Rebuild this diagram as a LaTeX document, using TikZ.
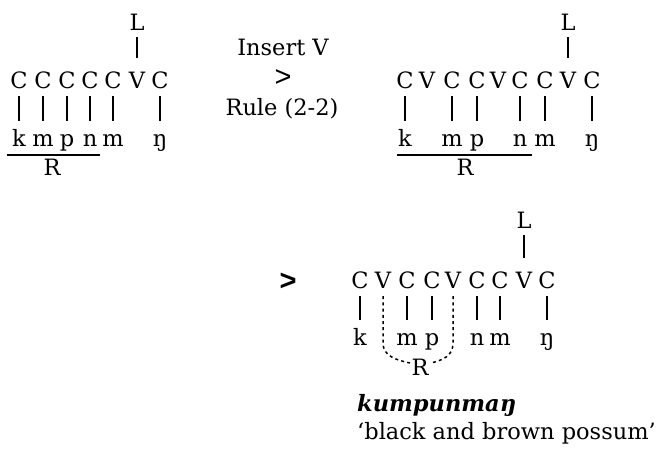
\documentclass[tikz,border=0pt]{standalone}
\usepackage{fontspec}
\setmainfont{DejaVu Serif}
\newfontfamily\gtfont{Liberation Sans}
\begin{document}
\begin{tikzpicture}[x=1pt,y=-1pt,
  every node/.style={font=\fontsize{22.5}{27}\selectfont},
  sym/.style={inner sep=0pt, anchor=base, text height=17pt, text depth=5pt},
  assoc/.style={line width=1.2pt, shorten <=3pt, shorten >=8pt},
  tonal/.style={line width=1.2pt, shorten <=2pt, shorten >=13pt},
  dotlink/.style={line width=1.5pt, dash pattern=on 3pt off 3.2pt},
  rootbar/.style={line width=1.6pt},
  plain/.style={inner sep=0pt, anchor=base}]
\useasboundingbox (0,0) rectangle (660,448);

% ---------- first form: C C C C C V C ----------
\node[sym] (aL) at (137,30) {L};
\foreach \n/\x/\t in {1/19/C,2/43/C,3/67/C,4/90/C,5/113/C,6/137/V,7/160/C}
  \node[sym] (a\n) at (\x,88) {\t};
\foreach \n/\x/\t in {1/19/k,2/43/m,3/67/p,4/90/n,5/113/m,7/160/ŋ}
  \node[sym] (as\n) at (\x,146) {\t};
\draw[tonal] (aL) -- (a6);
\foreach \n in {1,2,3,4,5,7}
  \draw[assoc] (a\n) -- (as\n);
\coordinate (aul) at (7,155);
\coordinate (aur) at (100,155);
\draw[rootbar] (aul) -- (aur);
\node[sym] (aR) at (52,175) {R};

% ---------- rule label ----------
\node[plain] (ins) at (283,55) {Insert V};
\node[plain] (gt1) at (283,86) {\gtfont\fontsize{29}{34}\selectfont >};
\node[plain] (rule) at (282,115) {Rule (2-2)};

% ---------- second form: C V C C V C C V C ----------
\node[sym] (bL) at (568,30) {L};
\foreach \n/\x/\t in {1/405/C,2/427/V,3/452/C,4/477/C,5/498/V,6/520/C,7/545/C,8/568/V,9/592/C}
  \node[sym] (b\n) at (\x,88) {\t};
\foreach \n/\x/\t in {1/405/k,3/452/m,4/477/p,6/520/n,7/545/m,9/592/ŋ}
  \node[sym] (bs\n) at (\x,146) {\t};
\draw[tonal] (bL) -- (b8);
\foreach \n in {1,3,4,6,7,9}
  \draw[assoc] (b\n) -- (bs\n);
\coordinate (bul) at (397,155);
\coordinate (bur) at (532,155);
\draw[rootbar] (bul) -- (bur);
\node[sym] (bR) at (465,175) {R};

% ---------- output form ----------
\node[plain] (gt2) at (288,290) {\gtfont\bfseries\fontsize{29}{34}\selectfont >};
\node[sym] (cL) at (524,228) {L};
\foreach \n/\x/\t in {1/360/C,2/383/V,3/407/C,4/432/C,5/453/V,6/477/C,7/500/C,8/524/V,9/547/C}
  \node[sym] (c\n) at (\x,288) {\t};
\foreach \n/\x/\t in {1/360/k,3/407/m,4/432/p,6/477/n,7/500/m,9/547/ŋ}
  \node[sym] (cs\n) at (\x,345) {\t};
\draw[tonal] (cL) -- (c8);
\foreach \n in {1,3,4,6,7,9}
  \draw[assoc] (c\n) -- (cs\n);
\node[sym] (cR) at (420,375) {R};
% dotted links from the inserted vowels down to R
\coordinate (lbend) at (383,343);
\coordinate (rbend) at (453,343);
\coordinate (lend) at (410,363);
\coordinate (rend) at (431,363);
\draw[dotlink] ([yshift=-3pt]c2.south) -- (lbend)
  .. controls (383,356) and (396,360) .. (lend);
\draw[dotlink] ([yshift=-3pt]c5.south) -- (rbend)
  .. controls (453,356) and (443,360) .. (rend);

\node[plain, anchor=base west] (word) at (357,411) {\textbf{\textit{kumpunmaŋ}}};
\node[plain, anchor=base west] (gloss) at (357,439) {‘black and brown possum’};
\end{tikzpicture}
\end{document}
